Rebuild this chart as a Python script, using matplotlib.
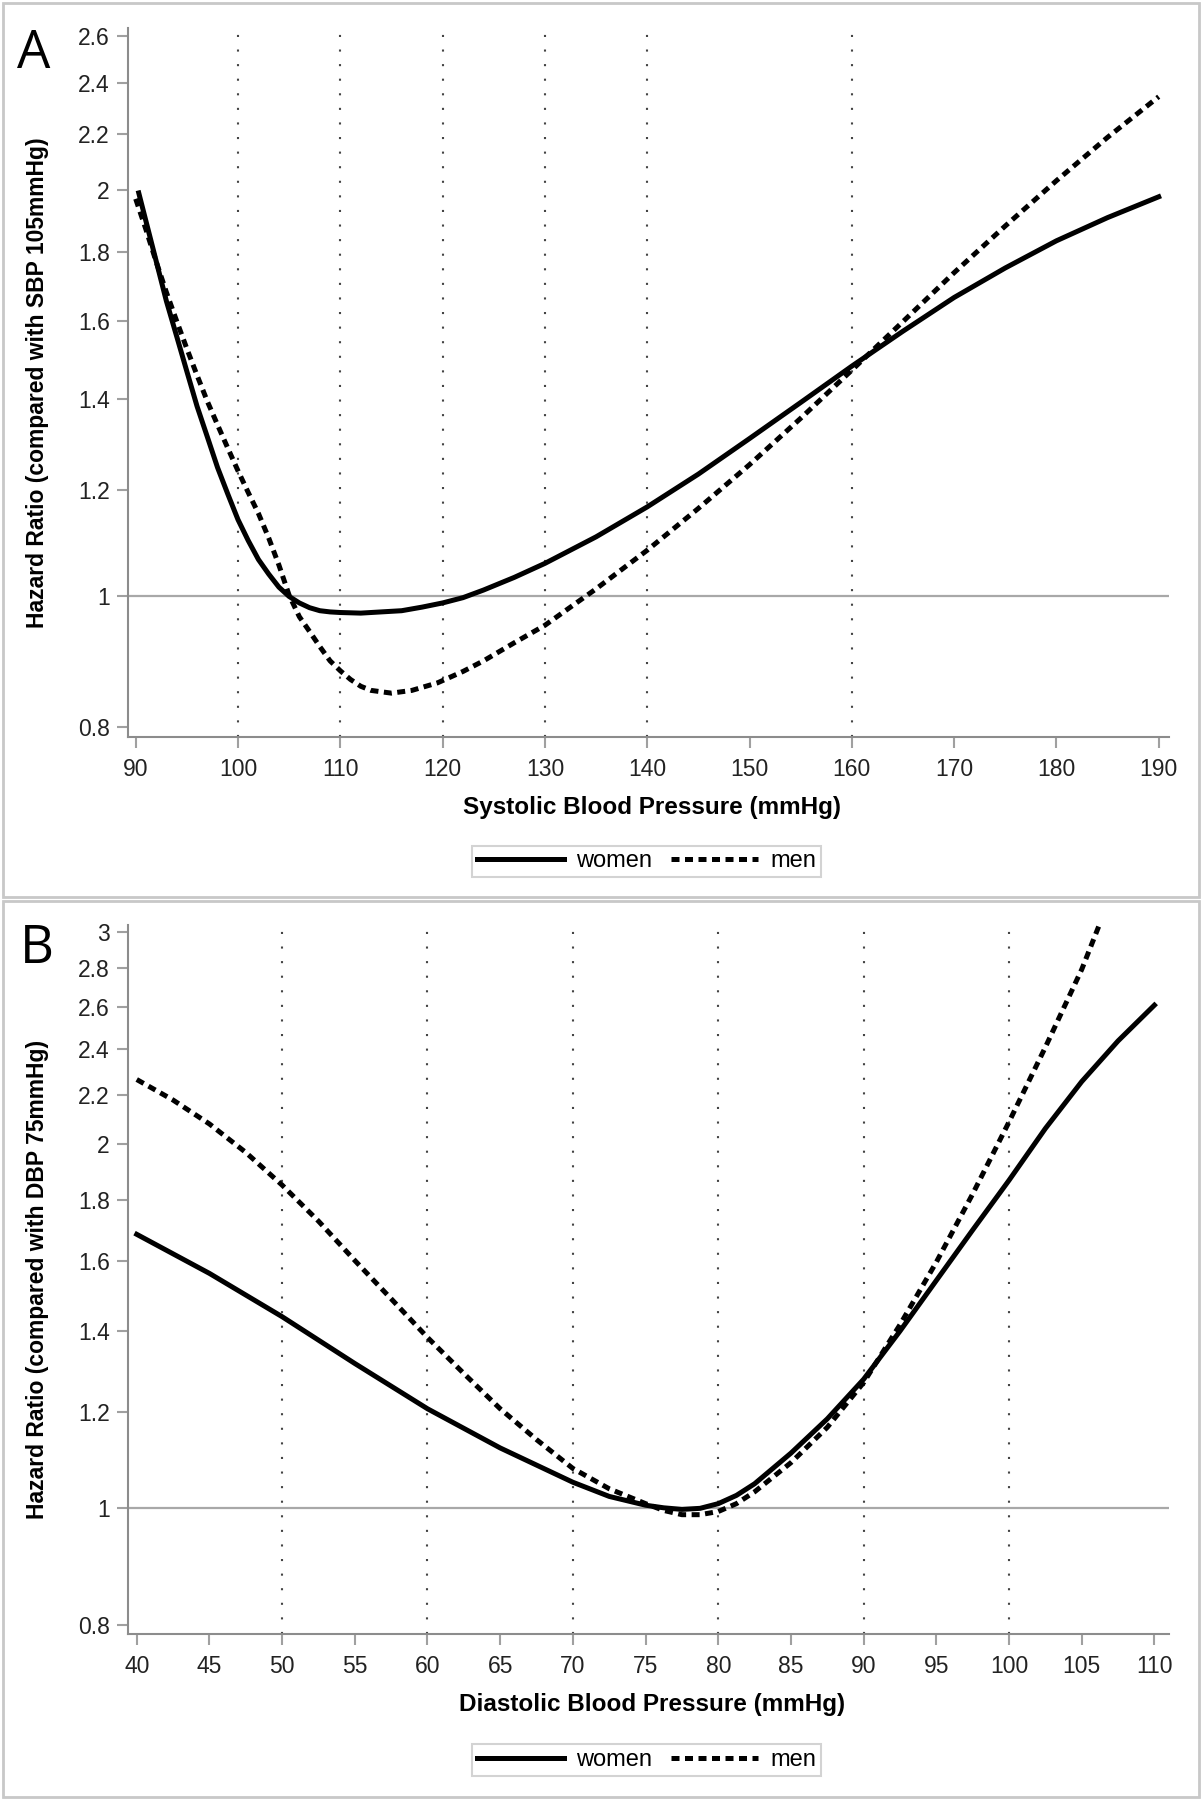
import numpy as np
import matplotlib
matplotlib.use('Agg')
import matplotlib.pyplot as plt
from matplotlib.patches import Rectangle
from matplotlib.ticker import FixedLocator, NullLocator, FuncFormatter

plt.rcParams['font.family'] = ['Liberation Sans', 'DejaVu Sans']

# Panel A - systolic blood pressure, HR vs SBP 105 mmHg
sbp_women = [90.3, 91, 92, 93, 94, 95, 96, 97, 98, 99, 100, 101, 102, 103, 104, 105, 106, 107,
             108, 109, 110, 112, 114, 116, 118, 120, 122, 124, 127, 130, 135, 140, 145, 150,
             155, 160, 165, 170, 175, 180, 185, 190]
hr_sbp_women = [1.99, 1.897, 1.772, 1.655, 1.559, 1.468, 1.383, 1.313, 1.246, 1.191, 1.140, 1.100,
                1.065, 1.039, 1.016, 1.0, 0.989, 0.981, 0.976, 0.974, 0.973, 0.972, 0.974, 0.976,
                0.982, 0.989, 0.998, 1.011, 1.033, 1.058, 1.107, 1.165, 1.232, 1.309, 1.392,
                1.481, 1.572, 1.665, 1.751, 1.834, 1.908, 1.977]
sbp_men = [90, 91, 92, 93, 94, 95, 96, 97, 98, 99, 100, 101, 102, 103, 104, 105, 106, 107, 108,
           109, 110, 111, 112, 113, 115, 117, 119.5, 122, 124, 127, 130, 135, 140, 145, 150, 155,
           160, 165, 170, 175, 180, 185, 190]
hr_sbp_men = [1.97, 1.87, 1.77, 1.68, 1.60, 1.526, 1.458, 1.395, 1.340, 1.288, 1.239, 1.194,
              1.152, 1.105, 1.055, 1.002, 0.966, 0.942, 0.918, 0.896, 0.881, 0.868, 0.858, 0.852,
              0.848, 0.852, 0.863, 0.880, 0.896, 0.924, 0.952, 1.013, 1.082, 1.162, 1.252,
              1.355, 1.471, 1.598, 1.737, 1.881, 2.032, 2.188, 2.345]

# Panel B - diastolic blood pressure, HR vs DBP 75 mmHg
dbp_women = [40, 45, 50, 55, 60, 65, 70, 72.5, 75, 76.25, 77.5, 78.75, 80, 81.25, 82.5, 85,
             87.5, 90, 92.5, 95, 97.5, 100, 102.5, 105, 107.5, 110]
hr_dbp_women = [1.685, 1.564, 1.44, 1.317, 1.208, 1.121, 1.05, 1.022, 1.005, 1.0, 0.997, 0.999,
                1.008, 1.024, 1.047, 1.110, 1.185, 1.278, 1.401, 1.543, 1.699, 1.868, 2.062,
                2.255, 2.437, 2.609]
dbp_men = [40, 42.5, 45, 47.5, 50, 52.5, 55, 57.5, 60, 62.5, 65, 67.5, 70, 72.5, 75, 76.25,
           77.5, 78.75, 80, 81.25, 82.5, 85, 87.5, 90, 92.5, 95, 97.5, 100, 102.5, 105, 106.3]
hr_dbp_men = [2.264, 2.177, 2.08, 1.97, 1.851, 1.728, 1.603, 1.49, 1.384, 1.292, 1.208, 1.139,
              1.078, 1.037, 1.008, 0.995, 0.987, 0.987, 0.993, 1.008, 1.031, 1.090, 1.166, 1.270,
              1.418, 1.598, 1.820, 2.088, 2.408, 2.793, 3.06]

sbp_ticks = list(range(90, 191, 10))
dbp_ticks = list(range(40, 111, 5))
hr_ticks_a = [0.8, 1, 1.2, 1.4, 1.6, 1.8, 2, 2.2, 2.4, 2.6]
hr_ticks_b = [0.8, 1, 1.2, 1.4, 1.6, 1.8, 2, 2.2, 2.4, 2.6, 2.8, 3]
sbp_refs = [100, 110, 120, 130, 140, 160]
dbp_refs = [50, 60, 70, 80, 90, 100]

men_ls = (0, (1.6, 1.1))


def style_panel(ax, xlim, ylim, xticks, yticks, refs, xlabel, ylabel):
    ax.set_yscale('log')
    ax.set_xlim(*xlim)
    ax.set_ylim(*ylim)
    ax.xaxis.set_major_locator(FixedLocator(xticks))
    ax.yaxis.set_major_locator(FixedLocator(yticks))
    ax.yaxis.set_minor_locator(NullLocator())
    ax.yaxis.set_major_formatter(FuncFormatter(lambda v, p: '%g' % v))
    for v in refs:
        ax.axvline(v, color='#444444', lw=1.5, linestyle=(0, (1, 6)), zorder=1)
    ax.axhline(1, color='#a8a8a8', lw=1.6, zorder=1)
    for s in ['top', 'right']:
        ax.spines[s].set_visible(False)
    for s in ['left', 'bottom']:
        ax.spines[s].set_color('#8c8c8c')
        ax.spines[s].set_linewidth(1.5)
    ax.tick_params(direction='out', length=8, width=1.5, color='#a0a0a0',
                   labelsize=16.5, labelcolor='#222222', pad=5)
    ax.tick_params(axis='x', pad=7)
    ax.set_xlabel(xlabel, fontsize=17.5, fontweight='bold', va='center')
    ax.xaxis.set_label_coords(0.503, -0.099)
    ax.text(-0.0865, 0.5, ylabel, transform=ax.transAxes, rotation=90,
            ha='center', va='center', fontsize=16.5, fontweight='bold')


fig = plt.figure(figsize=(12.02, 18), dpi=100)

# panel frames
for y0, h in [(0.5017, 0.4967), (0.0017, 0.4978)]:
    fig.patches.append(Rectangle((0.0025, y0), 0.995, h, transform=fig.transFigure,
                                 fill=False, edgecolor='#c8c8c8', lw=2))

axA = fig.add_axes([0.1065, 0.5906, 0.866, 0.3938])
lw_a, = axA.plot(sbp_women, hr_sbp_women, color='black', lw=3.6, label='women', zorder=3)
lm_a, = axA.plot(sbp_men, hr_sbp_men, color='black', lw=3.6, linestyle=men_ls, label='men', zorder=3)
style_panel(axA, (89.25, 191), (0.787, 2.636), sbp_ticks, hr_ticks_a, sbp_refs,
            'Systolic Blood Pressure (mmHg)', 'Hazard Ratio (compared with SBP 105mmHg)')

axB = fig.add_axes([0.1065, 0.0922, 0.866, 0.3939])
axB.plot(dbp_women, hr_dbp_women, color='black', lw=3.6, zorder=3)
axB.plot(dbp_men, hr_dbp_men, color='black', lw=3.6, linestyle=men_ls, zorder=3)
style_panel(axB, (39.4, 111), (0.786, 3.04), dbp_ticks, hr_ticks_b, dbp_refs,
            'Diastolic Blood Pressure (mmHg)', 'Hazard Ratio (compared with DBP 75mmHg)')

for yc in [0.5214, 0.0222]:
    leg = fig.legend([lw_a, lm_a], ['women', 'men'], loc='center', bbox_to_anchor=(0.5379, yc),
                     ncol=2, frameon=True, fancybox=False, edgecolor='#c8c8c8', fontsize=17,
                     handlelength=3.7, handletextpad=0.5, columnspacing=0.8, borderpad=0.2)
    leg.get_frame().set_linewidth(1.5)

fig.text(17 / 1202, 1 - 68 / 1800, 'A', fontsize=38, family=['Open Sans', 'DejaVu Sans'],
         ha='left', va='baseline')
fig.text(20 / 1202, 1 - 963 / 1800, 'B', fontsize=38, family=['Open Sans', 'DejaVu Sans'],
         ha='left', va='baseline')

fig.savefig('out.png', dpi=100)
